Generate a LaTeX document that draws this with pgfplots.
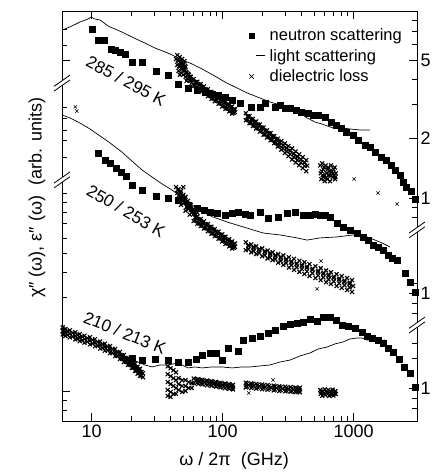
\documentclass[border=0pt]{standalone}
\usepackage{pgfplots}
\pgfplotsset{compat=1.18}
\usepackage{fontspec}
\setmainfont{Liberation Sans}
\pgfplotsset{every axis/.append style={scale only axis, width=355pt, height=410pt, xmode=log, xmin=5.93, xmax=3040,
  ymin=-0.1574, ymax=1.9239, tick align=inside, major tick length=8pt, minor tick length=5pt,
  every tick/.style={black, line width=0.7pt}, axis line style={line width=0.9pt},
  /pgf/number format/assume math mode=true,
  tick label style={font=\fontsize{18}{20}\selectfont}},
  dense/.style={only marks, mark=x, mark size=2.8pt, black, line width=1.1pt, forget plot}}
\newcommand{\brk}[1]{%
 \fill[white] ([shift={(-8pt,-8pt)}]#1) -- ([shift={(8pt,3.2pt)}]#1) -- ([shift={(8pt,8pt)}]#1) -- ([shift={(-8pt,-3.2pt)}]#1) -- cycle;
 \draw[line width=0.8pt] ([shift={(-8pt,-8pt)}]#1) -- ([shift={(8pt,3.2pt)}]#1);
 \draw[line width=0.8pt] ([shift={(-8pt,-3.2pt)}]#1) -- ([shift={(8pt,8pt)}]#1);}
\begin{document}
\begin{tikzpicture}
\begin{axis}[name=ax,
  xtick={10,100,1000}, xticklabels={10,100,1000},
  ytick pos=left, ytick={-0.005,1.675}, yticklabels={},
  minor ytick={-0.102,-0.051,0.472,0.599,0.695,0.772,0.848,0.904,0.954,1.000,1.183,1.269,1.320,1.381,1.437,1.751,1.832},
  xlabel={ω / 2π\ \ (GHz)}, ylabel={χ″ (ω),\ ε″ (ω)\ \ (arb. units)},
  xlabel style={font=\fontsize{18}{20}\selectfont, at={(rel axis cs:0.485,-0.098)}, anchor=center},
  ylabel style={font=\fontsize{18}{20}\selectfont, at={(rel axis cs:-0.0704,0.544)}, anchor=center},
  legend style={draw=none, fill=none, at={(rel axis cs:0.515,0.962)}, anchor=north west,
   font=\fontsize{16.5}{19}\selectfont, row sep=3pt, inner sep=0pt},
  legend cell align=left,
]
% ---------- legend series (top group) ----------
\addplot[only marks, mark=square*, mark size=3pt, black, legend image code/.code={\path (0pt,0pt) (22pt,0pt); \fill[black] (3.5pt,-2.6pt) rectangle (8.7pt,2.6pt);}] coordinates {
(10.1,1.832)(11.2,1.777)(12.4,1.777)(14.0,1.731)(15.1,1.726)(16.4,1.716)(17.9,1.706)(20.3,1.665)(24.2,1.665)(30.9,1.619)(38.2,1.599)(45.6,1.553)(54.3,1.533)(63.7,1.523)(73.3,1.513)(82.8,1.503)(92.1,1.497)(104.1,1.487)(118,1.472)(135.6,1.457)(164.4,1.437)(192.7,1.437)(210.3,1.457)(250.7,1.437)(273.8,1.447)(299,1.431)(326.4,1.431)(362.6,1.421)(396,1.411)(447.7,1.406)(489,1.396)(534.1,1.396)(604,1.386)(671,1.360)(732.8,1.345)(800,1.330)(873.4,1.310)(987.9,1.294)(1079,1.269)(1220,1.244)(1331,1.234)(1454,1.208)(1616,1.183)(1765,1.168)(1926,1.142)(2067,1.117)(2256,1.091)(2378,1.056)(2507,1.030)(2738,1.010)(2938,0.970)
};
\addlegendentry{neutron scattering}
\addplot[black, line width=0.7pt, mark=none, legend image code/.code={\path (0pt,0pt) (22pt,0pt); \draw[line width=1pt] (11pt,0pt) -- (20pt,0pt);}] coordinates {
(5.93,1.827)(6.83,1.843)(8.14,1.868)(9.37,1.883)(9.88,1.893)(10.6,1.883)(11.6,1.878)(13.3,1.848)(15.1,1.832)(17.0,1.817)(19.6,1.797)(22.6,1.777)(25.5,1.761)(30.4,1.736)(36.3,1.716)(41.0,1.701)(48.9,1.675)(56.2,1.660)(67.1,1.635)(84.3,1.599)(104.1,1.563)(124.2,1.538)(153.3,1.508)(192.7,1.482)(229.6,1.462)(273.8,1.447)(326.4,1.426)(389,1.406)(440,1.381)(507,1.360)(573,1.350)(695,1.330)(815,1.330)(937,1.325)(1117,1.320)(1331,1.320)
};
\addlegendentry{light scattering}
\addplot[only marks, mark=x, mark size=2.3pt, black, line width=0.5pt, legend image code/.code={\path (0pt,0pt) (22pt,0pt); \draw[line width=0.6pt] (4pt,-2.2pt) -- (8.4pt,2.2pt) (4pt,2.2pt) -- (8.4pt,-2.2pt);}] coordinates {
(7.5,1.437)(7.7,1.416)(1005,1.071)(1533,1.000)(2141,0.944)(563,0.655)(525,0.513)(242,0.051)(158,-0.015)
};
\addlegendentry{dielectric loss}
\addplot[dense] coordinates {
(44,1.68)(45,1.70)(45,1.65)(46,1.67)(46,1.62)(47,1.69)(47,1.64)(48,1.66)(48,1.61)(49,1.68)(49,1.63)(50,1.65)(50,1.60)(51,1.62)(52,1.64)(52,1.59)(53,1.61)(54,1.58)(55,1.60)(56,1.57)(57,1.59)(58,1.56)(47,1.60)(51,1.67)(53,1.57)
(60,1.579)(62,1.561)(60,1.543)(64,1.565)(66,1.547)(64,1.529)(68,1.553)(70,1.535)(68,1.517)(72,1.541)(74,1.523)(72,1.505)(77,1.527)(79,1.509)(77,1.491)(82,1.514)(84,1.496)(82,1.478)(87,1.502)(90,1.484)(87,1.466)(93,1.489)(96,1.471)(93,1.453)(99,1.475)(102,1.457)(99,1.439)(105,1.463)(108,1.445)(105,1.427)(112,1.450)(115,1.432)(112,1.414)(118,1.439)(121,1.421)(118,1.403)(124,1.425)(124,1.411)
(150,1.405)(155,1.387)(150,1.369)(160,1.390)(165,1.372)(160,1.354)(170,1.376)(175,1.358)(170,1.340)(180,1.363)(186,1.345)(180,1.327)(192,1.348)(198,1.330)(192,1.312)(205,1.332)(211,1.314)(205,1.296)(218,1.318)(225,1.300)(218,1.282)(232,1.304)(239,1.286)(232,1.268)(247,1.289)(255,1.271)(247,1.253)(263,1.276)(271,1.256)(263,1.236)(280,1.264)(289,1.242)(280,1.220)(298,1.251)(307,1.227)(298,1.203)(317,1.239)(327,1.213)(317,1.187)(338,1.226)(348,1.198)(338,1.170)(360,1.211)(371,1.183)(360,1.155)(383,1.197)(395,1.169)(383,1.141)(408,1.182)(420,1.154)(408,1.126)(434,1.167)(441,1.139)(434,1.111)
(555,1.14)(560,1.10)(565,1.07)(575,1.15)(585,1.12)(590,1.08)(600,1.06)(610,1.14)(620,1.10)(630,1.07)(640,1.13)(650,1.09)(660,1.06)(670,1.14)(680,1.11)(690,1.08)(700,1.12)(710,1.09)(720,1.07)(730,1.10)
};
\addplot[dense] coordinates {
(45.5,1.675)(46.5,1.645)(47.5,1.665)(48.5,1.635)(49.5,1.655)(50.5,1.625)(51.5,1.645)(52.5,1.615)(53.5,1.595)(54.5,1.605)(55.5,1.585)(56.5,1.59)(57.5,1.57)
(62,1.563)(62,1.545)(66,1.550)(66,1.532)(70,1.538)(70,1.520)(74.5,1.525)(74.5,1.507)(79.5,1.512)(79.5,1.494)(84.5,1.499)(84.5,1.481)(90,1.487)(90,1.469)(96,1.473)(96,1.455)(102,1.460)(102,1.442)(108.5,1.448)(108.5,1.430)(115,1.436)(115,1.418)(121,1.425)(121,1.407)
(155,1.389)(155,1.371)(165,1.374)(165,1.356)(175,1.361)(175,1.343)(186,1.347)(186,1.329)(198,1.331)(198,1.313)(211,1.316)(211,1.298)(225,1.302)(225,1.284)(239,1.288)(239,1.270)(255,1.273)(255,1.255)(271,1.258)(271,1.240)(289,1.244)(289,1.226)(307,1.229)(307,1.211)(327,1.215)(327,1.197)(349,1.200)(349,1.182)(371,1.185)(371,1.167)(395,1.171)(395,1.153)(421,1.156)(421,1.138)
(570,1.11)(595,1.13)(615,1.08)(635,1.12)(655,1.11)(675,1.09)(695,1.10)(715,1.13)(725,1.08)(580,1.09)
};
% ---------- middle group ----------
\addplot[only marks, mark=square*, mark size=3pt, black, forget plot] coordinates {
(11.2,1.203)(12.6,1.168)(13.8,1.152)(15.3,1.127)(16.7,1.107)(18.3,1.086)(20.3,1.041)(24.2,1.015)(30.9,0.985)(38.2,0.975)(45.6,0.964)(54.3,0.939)(63.7,0.924)(71.9,0.914)(80.0,0.904)(90.5,0.898)(104.1,0.888)(118,0.898)(130.9,0.904)(147.9,0.893)(161.5,0.888)(192.7,0.904)(221.7,0.873)(264.4,0.878)(309.7,0.898)(356.4,0.904)(410,0.888)(464,0.888)(507,0.893)(553,0.888)(604,0.888)(659,0.878)(746,0.848)(829,0.827)(937,0.812)(1060,0.797)(1178,0.777)(1286,0.761)(1403,0.736)(1533,0.726)(1674,0.711)(1827,0.685)(1961,0.670)(2141,0.660)(2464,0.594)(2691,0.548)(2938,0.497)
};
\addplot[black, line width=0.7pt, mark=none, forget plot] coordinates {
(5.93,1.396)(6.83,1.381)(8.14,1.355)(9.70,1.325)(11.6,1.289)(13.8,1.254)(17.0,1.208)(20.3,1.162)(24.2,1.117)(28.9,1.081)(34.4,1.046)(41.0,1.015)(47.2,0.985)(56.2,0.949)(67.1,0.909)(84.3,0.878)(113.7,0.848)(153.3,0.822)(203.1,0.797)(273.8,0.787)(369.2,0.772)(440,0.761)(553,0.772)(746,0.777)(988,0.787)(1263,0.777)(1588,0.751)(1892,0.726)
};
\addplot[dense] coordinates {
(44,1.03)(45,1.00)(46,1.02)(47,0.98)(48,1.01)(49,0.96)(50,0.99)(51,0.95)(52,0.98)(53,0.93)(54,0.96)(55,0.92)(57,0.94)(58,0.90)(60,0.92)(62,0.89)(64,0.90)(46,0.97)(50,1.03)(48,0.94)(52,0.91)(56,0.89)
(60,0.894)(62,0.876)(60,0.858)(64,0.880)(66,0.862)(64,0.844)(68,0.868)(70,0.850)(68,0.832)(72,0.856)(74,0.838)(72,0.820)(77,0.842)(79,0.824)(77,0.806)(82,0.829)(84,0.811)(82,0.793)(87,0.817)(90,0.799)(87,0.781)(93,0.804)(96,0.786)(93,0.768)(99,0.790)(102,0.772)(99,0.754)(105,0.778)(108,0.760)(105,0.742)(112,0.765)(115,0.747)(112,0.729)(118,0.754)(121,0.736)(118,0.718)(124,0.744)(124,0.726)
(150,0.750)(157,0.730)(150,0.710)(165,0.739)(172,0.719)(165,0.699)(180,0.730)(188,0.710)(180,0.690)(200,0.719)(209,0.699)(200,0.679)(220,0.708)(230,0.688)(220,0.668)(240,0.699)(251,0.679)(240,0.659)(265,0.690)(277,0.668)(265,0.646)(290,0.683)(303,0.659)(290,0.635)(320,0.674)(334,0.648)(320,0.622)(350,0.666)(366,0.638)(350,0.610)(385,0.656)(402,0.628)(385,0.600)(420,0.649)(439,0.619)(420,0.589)(460,0.639)(481,0.609)(460,0.579)(510,0.628)(533,0.598)(510,0.568)(560,0.618)(585,0.588)(560,0.558)(615,0.607)(643,0.577)(615,0.547)(670,0.598)(700,0.568)(670,0.538)(740,0.588)(773,0.558)(740,0.528)(810,0.578)(846,0.548)(810,0.518)(890,0.568)(930,0.538)(890,0.508)(970,0.558)(990,0.528)(970,0.498)
};
\addplot[dense] coordinates {
(45.5,1.015)(46.5,0.99)(47.5,1.0)(48.5,0.975)(49.5,0.985)(50.5,0.965)(51.5,0.97)(52.5,0.95)(53.5,0.95)(54.5,0.94)(55.5,0.93)(57,0.915)(59,0.91)(61,0.90)
(62,0.878)(62,0.860)(66,0.865)(66,0.847)(70,0.853)(70,0.835)(74.5,0.840)(74.5,0.822)(79.5,0.827)(79.5,0.809)(84.5,0.814)(84.5,0.796)(90,0.802)(90,0.784)(96,0.788)(96,0.770)(102,0.775)(102,0.757)(108.5,0.763)(108.5,0.745)(115,0.751)(115,0.733)(121,0.740)(121,0.722)
(157,0.735)(157,0.715)(172,0.725)(172,0.705)(190,0.715)(190,0.695)(210,0.704)(210,0.684)(230,0.694)(230,0.674)(252,0.684)(252,0.664)(277,0.674)(277,0.654)(305,0.664)(305,0.644)(335,0.653)(335,0.633)(367,0.643)(367,0.623)(402,0.634)(402,0.614)(440,0.626)(440,0.602)(485,0.616)(485,0.592)(535,0.605)(535,0.581)(587,0.595)(587,0.571)(642,0.585)(642,0.561)(705,0.575)(705,0.551)(775,0.565)(775,0.541)(850,0.555)(850,0.531)(930,0.545)(930,0.521)
};
% ---------- bottom group ----------
\addplot[only marks, mark=square*, mark size=3pt, black, forget plot] coordinates {
(20.3,0.162)(24.2,0.152)(30.4,0.157)(38.2,0.152)(45.6,0.142)(54.3,0.142)(62.5,0.157)(69.5,0.178)(80.0,0.188)(88.9,0.188)(98.8,0.152)(109.8,0.213)(130.9,0.198)(142.9,0.254)(167.4,0.264)(192.7,0.274)(221.7,0.289)(250.7,0.305)(288.6,0.325)(326.4,0.335)(369.2,0.340)(410,0.345)(464,0.360)(525,0.350)(583,0.371)(659,0.371)(733,0.355)(815,0.330)(905,0.325)(1023,0.315)(1157,0.294)(1263,0.274)(1379,0.264)(1533,0.254)(1674,0.239)(1827,0.213)(1995,0.193)(2217,0.157)(2421,0.117)(2691,0.086)(2938,0.015)
};
\addplot[black, line width=0.7pt, mark=none, forget plot] coordinates {
(5.93,0.315)(7.46,0.289)(9.37,0.264)(11.6,0.239)(13.8,0.213)(16.4,0.183)(19.6,0.157)(22.6,0.142)(25.5,0.127)(28.9,0.117)(33.2,0.127)(38.2,0.127)(45.6,0.137)(54.3,0.112)(61.4,0.117)(69.5,0.112)(82.8,0.117)(98.8,0.117)(118,0.112)(140.4,0.117)(161.5,0.117)(192.7,0.122)(229.6,0.127)(273.8,0.142)(326.4,0.152)(389,0.173)(464,0.188)(534,0.208)(625,0.218)(720,0.234)(829,0.244)(937,0.259)(1060,0.264)(1157,0.264)(1263,0.254)(1379,0.254)(1533,0.249)(1734,0.254)
};
\addplot[dense] coordinates {
(6.0,0.318)(6.0,0.300)(6.0,0.282)(6.3,0.310)(6.3,0.292)(6.3,0.274)(6.8,0.303)(6.8,0.285)(6.8,0.267)(7.5,0.293)(7.5,0.275)(7.5,0.257)(8.1,0.284)(8.1,0.266)(8.1,0.248)(8.8,0.276)(8.8,0.258)(8.8,0.240)(9.7,0.268)(9.7,0.250)(9.7,0.232)(10.6,0.258)(10.6,0.240)(10.6,0.222)(11.6,0.246)(11.6,0.228)(11.6,0.210)(12.6,0.235)(12.6,0.217)(12.6,0.199)(13.8,0.223)(13.8,0.205)(13.8,0.187)(15.1,0.208)(15.1,0.190)(15.1,0.172)(16.4,0.193)(16.4,0.175)(16.4,0.157)(17.6,0.178)(17.6,0.160)(17.6,0.142)(18.9,0.163)(18.9,0.145)(18.9,0.127)(20.2,0.148)(20.2,0.130)(20.2,0.112)(21.4,0.133)(21.4,0.115)(21.4,0.097)(22.4,0.118)(22.4,0.100)(22.4,0.082)(23.4,0.108)(23.4,0.090)(23.4,0.072)(24.6,0.085)(24.6,0.065)
(38,0.12)(38,0.08)(38,0.04)(38,0.0)(38,-0.03)(40,0.11)(40,0.07)(40,0.03)(40,-0.01)(40,-0.035)(42,0.10)(42,0.06)(42,0.02)(42,-0.02)(44,0.09)(44,0.05)(44,0.01)(44,-0.02)(46,0.06)(46,0.03)(46,0.0)(49,0.05)(49,0.02)(49,-0.01)(52,0.05)(52,0.02)(52,-0.005)(55,0.04)(55,0.01)(58,0.035)(58,0.01)
(60,0.058)(60,0.034)(62.5,0.046)(65,0.055)(65,0.031)(67.5,0.043)(70,0.052)(70,0.028)(73,0.040)(76,0.048)(76,0.024)(79,0.036)(82,0.045)(82,0.021)(85.5,0.033)(89,0.041)(89,0.017)(92.5,0.029)(96,0.037)(96,0.013)(100,0.025)(104,0.033)(104,0.009)(108,0.021)(112,0.030)(112,0.006)(116,0.018)(120,0.027)(120,0.003)
(150,0.037)(150,0.013)(157,0.025)(165,0.034)(165,0.010)(172,0.022)(180,0.031)(180,0.007)(190,0.019)(200,0.028)(200,0.004)(210,0.016)(220,0.025)(220,0.001)(232,0.013)(245,0.022)(245,-0.002)(257,0.010)(270,0.019)(270,-0.005)(285,0.007)(300,0.017)(300,-0.007)(315,0.005)(330,0.015)(330,-0.009)(345,0.003)(360,0.013)(360,-0.011)(375,0.001)(389,0.012)(389,-0.012)
(555,0.0)(560,-0.02)(575,-0.03)(580,-0.01)(600,0.003)(605,-0.025)(625,-0.012)(640,0.0)(650,-0.03)(670,-0.015)(690,0.002)(700,-0.028)(715,-0.01)(730,-0.02)
};
\addplot[dense] coordinates {
(6.15,0.305)(6.15,0.287)(6.55,0.297)(6.55,0.279)(7.15,0.289)(7.15,0.271)(7.8,0.279)(7.8,0.261)(8.45,0.271)(8.45,0.253)(9.25,0.263)(9.25,0.245)(10.15,0.254)(10.15,0.236)(11.1,0.243)(11.1,0.225)(12.1,0.231)(12.1,0.213)(13.2,0.220)(13.2,0.202)(14.4,0.206)(14.4,0.188)(15.7,0.191)(15.7,0.173)(17.0,0.176)(17.0,0.158)(18.2,0.161)(18.2,0.143)(19.5,0.146)(19.5,0.128)(20.8,0.131)(20.8,0.113)(21.9,0.116)(21.9,0.098)(22.9,0.104)(22.9,0.086)(24.0,0.091)(24.0,0.073)
(63.7,0.052)(63.7,0.038)(68.7,0.049)(68.7,0.035)(74.5,0.045)(74.5,0.031)(80.5,0.042)(80.5,0.028)(87,0.038)(87,0.024)(94,0.034)(94,0.020)(102,0.030)(102,0.016)(110,0.026)(110,0.012)(118,0.022)(118,0.008)
(153,0.032)(153,0.018)(168,0.029)(168,0.015)(185,0.026)(185,0.012)(205,0.023)(205,0.009)(226,0.020)(226,0.006)(250,0.017)(250,0.003)(277,0.014)(277,0.000)(307,0.011)(307,-0.003)(337,0.009)(337,-0.005)(367,0.007)(367,-0.007)(382,0.006)(382,-0.006)
(565,-0.008)(590,-0.018)(615,-0.005)(635,-0.02)(660,-0.005)(680,-0.025)(710,-0.018)(725,-0.005)
};
\node[rotate=-28, font=\fontsize{17}{20}\selectfont] at (axis cs:18.3,1.569) {285 / 295 K};
\node[rotate=-30, font=\fontsize{17}{20}\selectfont] at (axis cs:18.3,0.909) {250 / 253 K};
\node[rotate=-22, font=\fontsize{17}{20}\selectfont] at (axis cs:17.9,0.289) {210 / 213 K};
\coordinate (bl1) at (rel axis cs:0,0.824);
\coordinate (bl2) at (rel axis cs:0,0.588);
\coordinate (br1) at (rel axis cs:1,0.466);
\coordinate (br2) at (rel axis cs:1,0.234);
\end{axis}
\begin{axis}[hide x axis, axis y line*=right,
  ytick={0.010,0.492,0.9746,1.2756,1.6736}, yticklabels={1,1,1,2,5},
  minor ytick={-0.091,-0.041,0.162,0.239,0.391,0.442,0.543,0.8777,0.9288,1.4517,1.5767,1.7528,1.8197,1.8777},
  yticklabel style={font=\fontsize{18}{20}\selectfont}]
\end{axis}
\brk{bl1}\brk{bl2}\brk{br1}\brk{br2}
\pgfresetboundingbox
\path[use as bounding box] ([shift={(-62pt,-53pt)}]ax.south west) rectangle ([shift={(21pt,11pt)}]ax.north east);
\end{tikzpicture}
\end{document}
